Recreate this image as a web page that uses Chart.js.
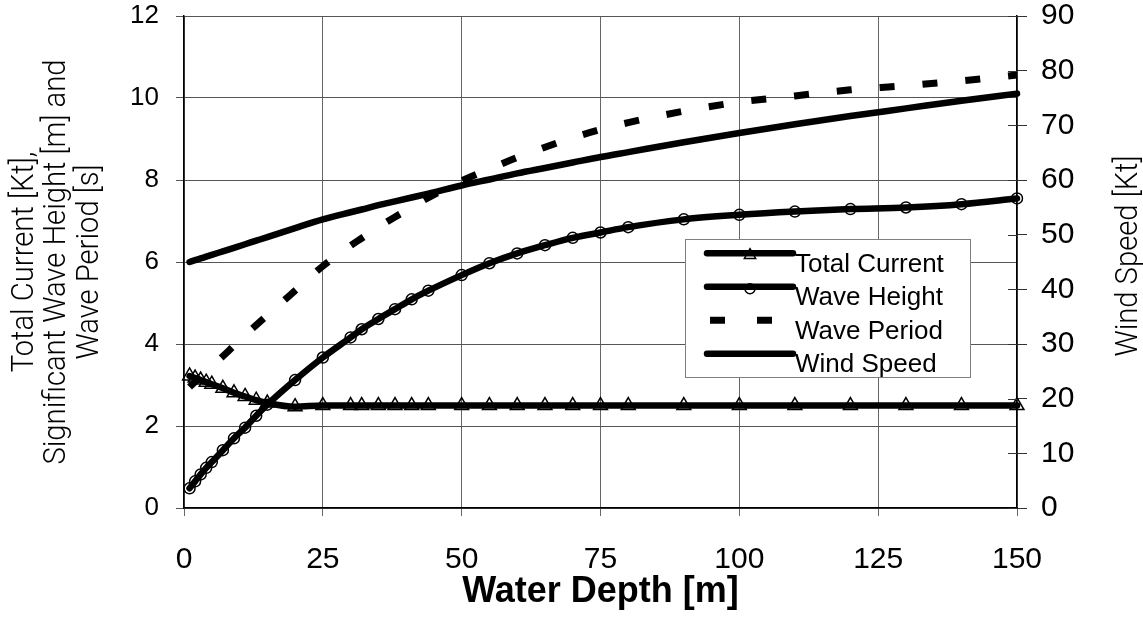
<!DOCTYPE html>
<html><head><meta charset="utf-8">
<script src="https://cdn.jsdelivr.net/npm/chart.js@4/dist/chart.umd.min.js"></script>
<style>html,body{margin:0;padding:0;background:#fff;}canvas{display:block;}</style>
</head><body>
<canvas id="c" width="1143" height="625"></canvas>
<script>
// ---- data ----
const depth        = [1,2,3,4,5,7,9,11,13,15,20,25,30,32,35,38,41,44,50,55,60,65,70,75,80,90,100,110,120,130,140,150];
const totalCurrent = [3.22,3.17,3.12,3.07,3.02,2.92,2.81,2.72,2.63,2.56,2.47,2.5,2.5,2.5,2.5,2.5,2.5,2.5,2.5,2.5,2.5,2.5,2.5,2.5,2.5,2.5,2.5,2.5,2.5,2.5,2.5,2.5];
const waveHeight   = [0.48,0.65,0.82,0.98,1.12,1.41,1.70,1.96,2.25,2.52,3.12,3.67,4.16,4.36,4.61,4.85,5.09,5.30,5.68,5.97,6.21,6.41,6.59,6.72,6.85,7.04,7.15,7.23,7.29,7.33,7.41,7.55];
const wavePeriod   = [2.95,3.08,3.2,3.33,3.45,3.7,3.96,4.22,4.46,4.7,5.3,5.9,6.4,6.58,6.85,7.1,7.33,7.57,7.98,8.27,8.55,8.8,9.03,9.23,9.4,9.68,9.9,10.05,10.2,10.3,10.42,10.56];
const windSpeed    = [45.0,45.33,45.65,45.98,46.3,46.95,47.6,48.25,48.9,49.55,51.2,52.8,54.1,54.6,55.4,56.1,56.8,57.5,59.0,60.1,61.2,62.2,63.2,64.2,65.1,66.9,68.6,70.2,71.7,73.1,74.5,75.8];
const xTicks     = [0,25,50,75,100,125,150];
const leftTicks  = [0,2,4,6,8,10,12];
const rightTicks = [0,10,20,30,40,50,60,70,80,90];
const seriesNames = ['Total Current','Wave Height','Wave Period','Wind Speed'];
const xTitle = 'Water Depth [m]';
const leftTitle = ['Total Current [Kt],','Significant Wave Height [m] and','Wave Period [s]'];
const rightTitle = 'Wind Speed [Kt]';

const pts = arr => depth.map((d,i)=>({x:d,y:arr[i]}));
const SANS = "'Liberation Sans', Arial, sans-serif";
const THIN = "300 31px Roboto, 'DejaVu Sans', sans-serif";

const extras = {
  id:'extras',
  afterDraw(chart){
    const ctx = chart.ctx, s = chart.scales.y2, a = chart.chartArea;
    ctx.save();
    ctx.strokeStyle = '#333'; ctx.lineWidth = 1;
    s.ticks.forEach(t=>{
      const y = Math.round(s.getPixelForValue(t.value))+0.5;
      ctx.beginPath(); ctx.moveTo(a.right-9,y); ctx.lineTo(a.right,y); ctx.stroke();
    });
    ctx.restore();
    // vertical axis titles (read bottom-to-top), condensed
    ctx.save();
    ctx.font = THIN;
    const k = 405 / ctx.measureText(leftTitle[1]).width;
    const cy = (a.top + a.bottom) / 2;
    const drawV = (txt, x, y) => {
      ctx.save();
      ctx.translate(x, y); ctx.rotate(-Math.PI/2); ctx.scale(k, 1);
      ctx.fillStyle = '#000'; ctx.textAlign = 'center'; ctx.textBaseline = 'middle';
      ctx.fillText(txt, 0, 0);
      ctx.restore();
    };
    leftTitle.forEach((t,i)=>drawV(t, 25 + i*32.5, cy));
    drawV(rightTitle, 1129, cy - 6);
    ctx.restore();
  }
};

const boxLegend = {
  id:'boxLegend',
  afterDatasetsDraw(chart){
    const ctx = chart.ctx;
    const L=685, T=239, R=970, B=377;
    ctx.save();
    ctx.fillStyle='#fff'; ctx.fillRect(L,T,R-L,B-T);
    ctx.strokeStyle='#808080'; ctx.lineWidth=1; ctx.strokeRect(L+0.5,T+0.5,R-L,B-T);
    chart.data.datasets.forEach((ds,i)=>{
      const base = 271.7 + i*33.5;
      const ly = base - 18.5;
      ctx.strokeStyle='#000';
      ctx.lineWidth = ds.borderWidth;
      ctx.beginPath();
      if (ds.borderDash){
        ctx.lineCap = 'butt'; ctx.setLineDash([15,32]);
        ctx.moveTo(710,ly); ctx.lineTo(772,ly);
      } else {
        ctx.lineCap = 'round'; ctx.setLineDash([]);
        ctx.moveTo(707,ly); ctx.lineTo(793,ly);
      }
      ctx.stroke();
      ctx.setLineDash([]);
      if (ds.pointRadius > 0){
        ctx.fillStyle = 'rgba(0,0,0,0)'; ctx.strokeStyle = '#000'; ctx.lineWidth = ds.pointBorderWidth;
        const r = ds.pointStyle === 'triangle' ? 6.5 : 5;
        Chart.helpers.drawPoint(ctx, {pointStyle: ds.pointStyle, radius: r, borderWidth: ds.pointBorderWidth}, 750, ly + 2);
      }
      ctx.fillStyle='#000';
      ctx.font = "26px " + SANS;
      ctx.textAlign='left'; ctx.textBaseline='alphabetic';
      ctx.fillText(ds.label, 795, base);
    });
    ctx.restore();
  }
};

const fixV = w => s => { s.width = w; s.paddingTop = 16; s.paddingBottom = 0; };

new Chart(document.getElementById('c'), {
  type:'line',
  data:{
    datasets:[
      {label:seriesNames[0], data:pts(totalCurrent), yAxisID:'y', borderColor:'#000', borderWidth:6.5,
       borderCapStyle:'round', borderJoinStyle:'round', pointStyle:'triangle', pointRadius:8,
       pointBorderWidth:1.5, pointBorderColor:'#000', pointBackgroundColor:'rgba(0,0,0,0)', clip:false,
       cubicInterpolationMode:'monotone'},
      {label:seriesNames[1], data:pts(waveHeight), yAxisID:'y', borderColor:'#000', borderWidth:6.5,
       borderCapStyle:'round', borderJoinStyle:'round', pointStyle:'circle', pointRadius:5.5,
       pointBorderWidth:1.5, pointBorderColor:'#000', pointBackgroundColor:'rgba(0,0,0,0)', clip:false,
       cubicInterpolationMode:'monotone'},
      {label:seriesNames[2], data:pts(wavePeriod), yAxisID:'y', borderColor:'#000', borderWidth:7,
       borderDash:[15,28], borderCapStyle:'butt', pointRadius:0, clip:false, cubicInterpolationMode:'monotone'},
      {label:seriesNames[3], data:pts(windSpeed), yAxisID:'y2', borderColor:'#000', borderWidth:6.5,
       borderCapStyle:'round', borderJoinStyle:'round', pointRadius:0, clip:false, cubicInterpolationMode:'monotone'}
    ]
  },
  options:{
    responsive:false, animation:false, events:[], devicePixelRatio:1,
    layout:{padding:{top:0,left:0,right:0,bottom:0}},
    plugins:{legend:{display:false}, tooltip:{enabled:false}},
    scales:{
      x:{type:'linear', position:'bottom', min:0, max:150,
         afterBuildTicks:s=>{s.ticks = xTicks.map(v=>({value:v}));},
         afterFit:s=>{s.height = 117; s.paddingLeft = 0; s.paddingRight = 0;},
         grid:{color:'#666', lineWidth:1, tickLength:8},
         border:{display:true, color:'#000', width:1.5},
         ticks:{color:'#000', padding:26, maxRotation:0, autoSkip:false, font:{family:SANS, size:30}},
         title:{display:true, text:xTitle, color:'#000', padding:{top:0,bottom:11}, font:{family:SANS, size:36, weight:'bold'}}},
      y:{type:'linear', position:'left', min:0, max:12,
         afterBuildTicks:s=>{s.ticks = leftTicks.map(v=>({value:v}));},
         afterFit:fixV(184),
         grid:{color:'#555', lineWidth:1, tickLength:8},
         border:{display:true, color:'#000', width:1.5},
         ticks:{color:'#000', padding:17, font:{family:SANS, size:26}}},
      y2:{type:'linear', position:'right', min:0, max:90,
         afterBuildTicks:s=>{s.ticks = rightTicks.map(v=>({value:v}));},
         afterFit:fixV(126),
         grid:{drawOnChartArea:false, color:'#333', lineWidth:1, tickLength:10},
         border:{display:true, color:'#000', width:1.5},
         ticks:{color:'#000', padding:14, font:{family:SANS, size:30}}}
    }
  },
  plugins:[boxLegend, extras]
});
</script>
</body></html>
